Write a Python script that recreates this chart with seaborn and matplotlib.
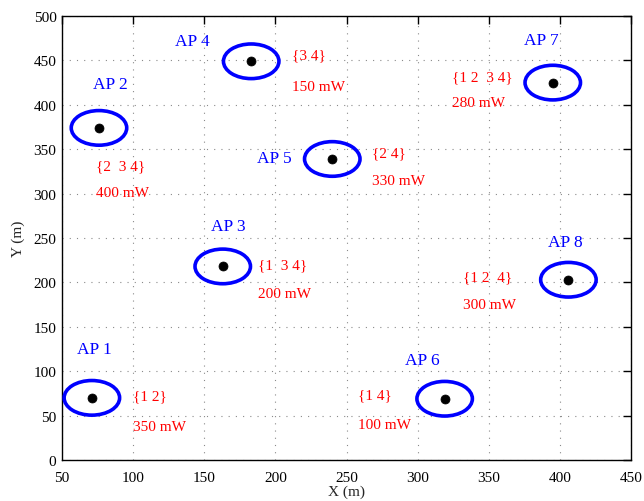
import matplotlib
matplotlib.use("Agg")
import matplotlib.pyplot as plt
from matplotlib.patches import Circle
import seaborn as sns
import pandas as pd

# ---- data ----
ap_names = ["AP 1", "AP 2", "AP 3", "AP 4", "AP 5", "AP 6", "AP 7", "AP 8"]
ap_x = [71, 76, 163, 183, 240, 319, 395, 406]
ap_y = [70, 374, 218, 449, 339, 69, 425, 203]
ap_sets = ["{1 2}", "{2  3 4}", "{1  3 4}", "{3 4}", "{2 4}", "{1 4}", "{1 2  3 4}", "{1 2  4}"]
ap_power = ["350 mW", "400 mW", "200 mW", "150 mW", "330 mW", "100 mW", "280 mW", "300 mW"]
coverage_radius = 19.5

# label anchor positions (data units)
name_x = [73, 84, 167, 142, 199, 303, 387, 404]
name_y = [125, 423, 264, 472, 340, 113, 473, 245]
info_x = [100, 74, 188, 212, 268, 258, 324, 332]
set_y = [72, 331, 220, 456, 346, 73, 432, 206]
pow_y = [38, 301, 188, 421, 315, 40, 403, 175]

df = pd.DataFrame({"x": ap_x, "y": ap_y})

sns.set_style("white")
plt.rcParams["font.family"] = ["Liberation Serif", "DejaVu Serif"]

fig = plt.figure(figsize=(6.44, 5.02), dpi=100)
ax = fig.add_axes([62 / 644, 41 / 502, (631 - 62) / 644, (461 - 17) / 502])

for x, y in zip(ap_x, ap_y):
    ax.add_patch(Circle((x, y), coverage_radius, fill=False, edgecolor="#0000ff", linewidth=2.6, zorder=3))

sns.scatterplot(data=df, x="x", y="y", color="black", s=42, edgecolor="black", ax=ax, zorder=4, legend=False)

for i in range(len(ap_names)):
    ax.text(name_x[i], name_y[i], ap_names[i], color="#0000ff", fontsize=12.5, ha="center", va="center")
    ax.text(info_x[i], set_y[i], ap_sets[i], color="#ff0000", fontsize=11, ha="left", va="center")
    ax.text(info_x[i], pow_y[i], ap_power[i], color="#ff0000", fontsize=11, ha="left", va="center")

ax.set_xlim(50, 450)
ax.set_ylim(0, 500)
ax.set_xticks(range(50, 451, 50))
ax.set_yticks(range(0, 501, 50))
ax.grid(True, linestyle=(0, (1, 5.5)), color="#8a8a8a", linewidth=0.8)
ax.tick_params(direction="in", length=6, width=1, top=True, right=True, labelsize=11, colors="black")
ax.tick_params(axis="x", pad=8)
ax.tick_params(axis="y", pad=4)
for s in ax.spines.values():
    s.set_color("black")
    s.set_linewidth(1)
ax.set_xlabel("X (m)", fontsize=11, labelpad=0)
ax.set_ylabel("Y (m)", fontsize=11, labelpad=6)

fig.savefig("out.png", dpi=100)
